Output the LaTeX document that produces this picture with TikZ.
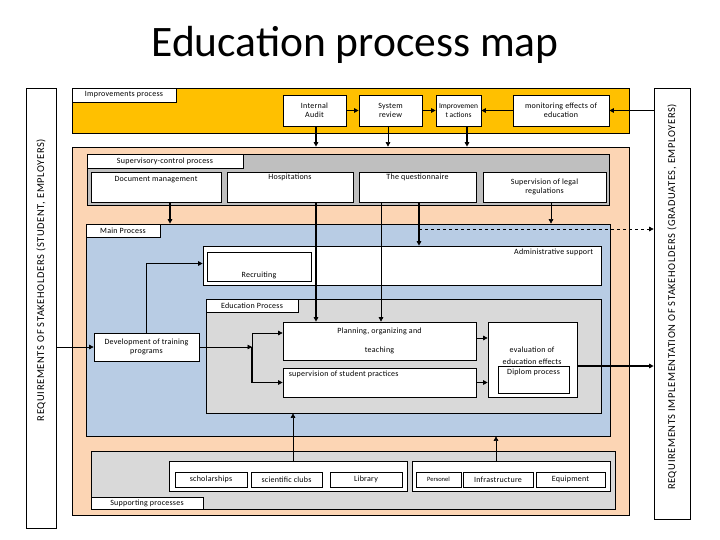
\documentclass[tikz,border=0pt]{standalone}
\usepackage{fontspec}
\setmainfont{Carlito}
\usetikzlibrary{positioning, arrows.meta}

\definecolor{gold}{HTML}{FFC000}
\definecolor{peach}{HTML}{FCD5B4}
\definecolor{paleblue}{HTML}{B8CCE4}
\definecolor{supgray}{HTML}{BFBFBF}
\definecolor{edugray}{HTML}{D9D9D9}

\begin{document}
\begin{tikzpicture}[
  x=1pt, y=-1pt,
  font=\fontsize{8}{9.5}\selectfont\addfontfeature{LetterSpace=3},
  >={Triangle[length=4.5pt,width=4.5pt]},
  dims/.style 2 args={minimum width=#1pt, minimum height=#2pt},
  zone/.style={draw, line width=0.7pt, inner sep=0pt},
  tag/.style={zone, fill=white},
  proc/.style={zone, fill=white, align=center},
  sidetext/.style={rotate=90, font=\fontsize{10.5}{12}\selectfont\addfontfeature{LetterSpace=6}},
  arr/.style={->, line width=0.6pt},
  midarr/.style={->, line width=1.1pt},
  thk/.style={->, line width=1.7pt},
]
\useasboundingbox (0,0) rectangle (720,540);

\node[font=\fontsize{43.5}{50}\selectfont] (title) at (355,45) {Education process map};

% ---- stakeholders ----
\node[zone, dims={30}{440}] (reqin) at (41,308) {};
\node[sidetext] at (41,280) {REQUIREMENTS OF STAKEHOLDERS (STUDENT, EMPLOYERS)};
\node[zone, dims={36}{431}] (reqout) at (672,303.5) {};
\node[sidetext] at (672,297) {REQUIREMENTS IMPLEMENTATION OF STAKEHOLDERS (GRADUATES, EMPLOYERS)};

% ---- improvements process ----
\node[zone, fill=gold, dims={557}{45}] (impr) at (350.5,110.5) {};
\node[tag, dims={104}{14}] (imprtag) at (124,95) {Improvements process};
\node[proc, dims={63}{31}] (audit) at (314.5,110.5) {Internal\\Audit};
\node[proc, dims={63}{31}] (sysrev) at (390.5,110.5) {System\\review};
\node[proc, dims={45}{31}, font=\fontsize{7.5}{9}\selectfont] (actions) at (458.5,110.5) {Improvemen\\t actions};
\node[proc, dims={96}{31}] (monit) at (561,110.5) {monitoring effects of\\education};
\draw[thk] (audit) -- (sysrev);
\draw[thk] (sysrev) -- (actions);
\draw[thk] (monit) -- (actions);
\draw[thk] (reqout.west |- monit.east) -- (monit.east);

% ---- big peach area ----
\node[zone, fill=peach, dims={557}{368}] (peacharea) at (350.5,331) {};
\draw[thk] ([xshift=1.5pt]audit.south) -- ([xshift=1.5pt]audit.south |- peacharea.north);
\draw[arr] ([xshift=-2.5pt]sysrev.south) -- ([xshift=-2.5pt]sysrev.south |- peacharea.north);
\draw[thk] ([xshift=8.5pt]actions.south) -- ([xshift=8.5pt]actions.south |- peacharea.north);

% ---- supervisory-control process ----
\node[zone, fill=supgray, dims={522}{51}] (superv) at (348,179.5) {};
\node[tag, dims={156}{14}] (supervtag) at (165,161) {Supervisory-control process};
\node[proc, dims={130}{30}, label={[anchor=north, inner sep=0pt, yshift=-5pt]north:Document management}] (docm) at (156,187) {};
\node[proc, dims={126}{30}, label={[anchor=north, inner sep=0pt, yshift=-2pt]north:Hospitations}] (hosp) at (290,187) {};
\node[proc, dims={117}{30}, label={[anchor=north, inner sep=0pt, yshift=-2pt]north:The questionnaire}] (quest) at (417.5,187) {};
\node[proc, dims={123}{30}] (legal) at (544.5,187) {Supervision of legal\\regulations};

% ---- main process ----
\node[zone, fill=paleblue, dims={524}{212}] (main) at (348,330) {};
\node[tag, dims={74}{13}] (maintag) at (123,230.5) {Main Process};
\draw[thk] ([xshift=14pt]docm.south) -- ([xshift=14pt]docm.south |- main.north);
\draw[arr] ([xshift=6.5pt]legal.south) -- ([xshift=6.5pt]legal.south |- main.north);

\node[proc, dims={398}{39}, label={[anchor=north east, inner sep=0pt, xshift=-8pt, yshift=-3pt]north east:Administrative support}] (admin) at (402,265.5) {};
\node[proc, dims={104}{29}, label={[anchor=south, inner sep=0pt, yshift=2pt]south:Recruiting}] (recr) at (259,266.5) {};

\node[zone, fill=edugray, dims={395}{114}] (edu) at (403.5,356) {};
\node[tag, dims={92}{13}] (edutag) at (252,305.5) {Education Process};
\node[proc, dims={193}{38}] (plan) at (379.5,341) {Planning, organizing and\\[10pt]teaching};
\node[proc, dims={193}{29}, label={[anchor=north west, inner sep=0pt, xshift=6pt, yshift=-3pt]north west:supervision of student practices}] (stud) at (379.5,382.5) {};
\node[proc, dims={89}{75}] (eval) at (532.5,359.5) {};
\node[font=\fontsize{8}{12}\selectfont\addfontfeature{LetterSpace=3}, align=center] at (532,356) {evaluation of\\education effects};
\node[proc, dims={71}{27}, label={[anchor=north, inner sep=0pt, yshift=-3pt]north:Diplom process}] (diplom) at (533.5,379.5) {};

\node[proc, dims={105}{28}] (dev) at (146.5,347) {Development of training\\programs};

% ---- hospitations and questionnaire feed the process ----
\draw[thk] ([xshift=26pt]hosp.south) -- ([xshift=26pt]hosp.south |- plan.north);
\draw[arr] ([xshift=-36.5pt]quest.south) -- ([xshift=-36.5pt]quest.south |- plan.north);
\draw[thk] ([xshift=1.5pt]quest.south) -- ([xshift=1.5pt]quest.south |- admin.north);
\coordinate (dsh) at (419,229);
\draw[arr, dashed] (dsh) -- (dsh -| reqout.west);

% ---- flow through the education process ----
\draw[arr] (reqin.east |- dev.west) -- (dev.west);
\draw[midarr] (dev.north) |- ([yshift=2pt]admin.west);
\coordinate (jn) at (252,347);
\draw[arr] (dev.east) -- (jn);
\draw[arr] (jn) |- ([yshift=8pt]plan.west);
\draw[thk] (jn) |- (stud.west);
\draw[arr] ([yshift=3pt]plan.east) -- ([yshift=3pt]plan.east -| eval.west);
\draw[thk] (stud.east) -- (stud.east -| eval.west);
\draw[thk] ([yshift=-6.5pt]eval.east) coordinate (ee) -- (ee -| reqout.west);

% ---- supporting processes ----
\node[zone, fill=edugray, dims={524}{58}] (supp) at (353,480) {};
\node[tag, dims={112}{12}] (supptag) at (147,503) {Supporting processes};
\node[proc, dims={238}{30}] (sg1) at (288,476) {};
\node[proc, dims={72}{15}] (schol) at (211,479.5) {scholarships};
\node[proc, dims={71}{15}] (clubs) at (286.5,479.5) {scientific clubs};
\node[proc, dims={72}{15}] (lib) at (366,479.5) {Library};
\node[proc, dims={198}{30}] (sg2) at (511,476) {};
\node[proc, dims={45}{15}, font=\fontsize{6.5}{7}\selectfont] (pers) at (438.5,479.5) {Personel};
\node[proc, dims={70}{15}] (infra) at (498,479.5) {Infrastructure};
\node[proc, dims={69}{15}] (equip) at (570.5,479.5) {Equipment};
\draw[arr] ([xshift=5pt]sg1.north) -- ([xshift=5pt]sg1.north |- edu.south);
\draw[arr] ([xshift=-15pt]sg2.north) -- ([xshift=-15pt]sg2.north |- main.south);

\end{tikzpicture}
\end{document}
